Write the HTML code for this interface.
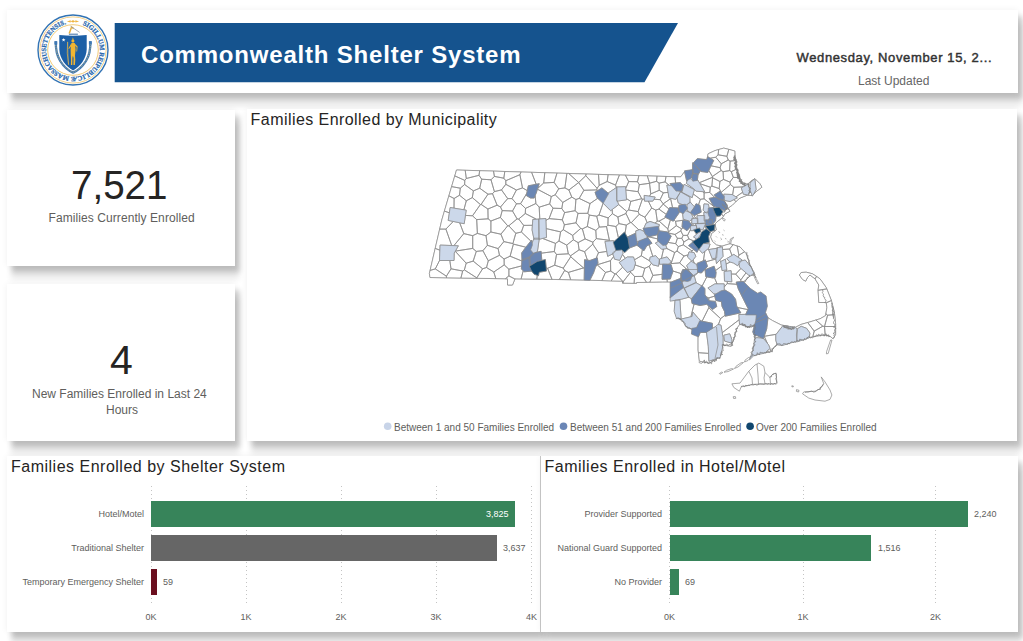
<!DOCTYPE html>
<html>
<head>
<meta charset="utf-8">
<title>Commonwealth Shelter System</title>
<style>
html,body{margin:0;padding:0;}
body{width:1023px;height:641px;overflow:hidden;background:#ffffff;position:relative;font-family:"Liberation Sans",sans-serif;}
.panel{position:absolute;background:#fff;box-shadow:5px 6px 5px 0 rgba(0,0,0,0.17), 4px 13px 6px 0 rgba(0,0,0,0.09), 0 0 7px 0 rgba(0,0,0,0.06);}
.abs{position:absolute;white-space:nowrap;}
.title{position:absolute;white-space:nowrap;letter-spacing:0.44px;font-size:16px;color:#252423;line-height:16px;transform-origin:0 0;}
.lbl{position:absolute;white-space:nowrap;font-size:9px;line-height:10px;color:#605e5c;transform-origin:100% 50%;text-align:right;}
.val{position:absolute;white-space:nowrap;font-size:9px;line-height:10px;color:#605e5c;transform-origin:0 50%;}
.ax{position:absolute;white-space:nowrap;font-size:9px;line-height:10px;color:#605e5c;width:30px;text-align:center;}
.grid{position:absolute;width:1px;background:repeating-linear-gradient(to bottom,#c4c4c4 0,#c4c4c4 1px,transparent 1px,transparent 4px);top:486px;height:120px;}
.bar{position:absolute;height:26px;}
</style>
</head>
<body>

<!-- header -->
<div class="panel" id="hdr" style="left:7px;top:9.8px;width:1010.5px;height:83.2px;"></div>
<!-- cards -->
<div class="panel" id="c1" style="left:7px;top:109.7px;width:228px;height:156px;"></div>
<div class="panel" id="c2" style="left:7px;top:284px;width:228px;height:157px;"></div>
<!-- map panel -->
<div class="panel" id="mp" style="left:247.3px;top:108.7px;width:770.2px;height:332.3px;"></div>
<!-- bar panels -->
<div class="panel" id="b1" style="left:7px;top:455.7px;width:534px;height:176px;"></div>
<div class="panel" id="b2" style="left:541px;top:455.7px;width:476.5px;height:176px;box-shadow:5px 6px 5px 0 rgba(0,0,0,0.17), 4px 13px 6px 0 rgba(0,0,0,0.09), 0 0 7px 0 rgba(0,0,0,0.06), -1px 0 0 0 #c9c9c9;"></div>

<!-- header content -->
<svg class="abs" style="left:0;top:0;" width="1023" height="100" viewBox="0 0 1023 100">
  <polygon points="114.7,23 678,23 644.5,82.3 114.7,82.3" fill="#15538e"/>
  <g id="seal">
    <circle cx="73" cy="50" r="35" fill="#ffffff" stroke="#3273b4" stroke-width="1.4"/>
    <circle cx="73" cy="50" r="33.1" fill="none" stroke="#f0c468" stroke-width="0.8"/>
    <circle cx="73" cy="50" r="25.3" fill="none" stroke="#f0c468" stroke-width="0.9"/>
    <path id="sealarc" d="M73,23.1 A26.9,26.9 0 1 1 72.99,23.1" fill="none"/>
    <text font-family="Liberation Serif, serif" font-weight="bold" font-size="6.7" fill="#2a68ad" stroke="#2a68ad" stroke-width="0.25"><textPath href="#sealarc" startOffset="9.6" textLength="152" lengthAdjust="spacingAndGlyphs">SIGILLUM REIPUBLICÆ MASSACHUSETTENSIS.</textPath></text>
    <!-- top ornament -->
    <path d="M66.9,21.4 L70.6,20.2 L70.6,22.6 Z M79.1,21.4 L75.4,20.2 L75.4,22.6 Z" fill="#eeb541"/>
    <path d="M70.4,21.4 H75.6" stroke="#eeb541" stroke-width="0.9"/>
    <circle cx="73" cy="21.4" r="1.15" fill="#eeb541"/>
    <!-- ribbon -->
    <path d="M55.8,41.2 C55.6,49 56.8,55.5 60.2,61 C63.5,66.2 68.5,70.8 73.1,72.6 C77.7,70.8 82.7,66.2 86,61 C89.4,55.5 90.6,49 90.4,41.2" fill="none" stroke="#3f78b4" stroke-width="2.3" stroke-linecap="butt"/>
    <path d="M55.8,43 C55.7,49.5 57,55.3 60.3,60.8 C63.6,66 68.5,70.5 73.1,72.4 C77.7,70.5 82.6,66 85.9,60.8 C89.2,55.3 90.5,49.5 90.4,43" fill="none" stroke="#e6c45e" stroke-width="0.9" stroke-dasharray="0.8 1.1" opacity="0.9"/>
    <path d="M54.4,41.3 h2.9 v3.2 h-2.9 z M88.9,41.3 h2.9 v3.2 h-2.9 z" fill="#3f78b4"/>
    <!-- shield -->
    <path d="M59.3,35.1 Q73,36.6 86.7,35.1 L86.7,49.5 C86.4,58.6 80.2,66.4 73.1,70.6 C66,66.4 59.6,58.6 59.3,49.5 Z" fill="#1c5fa6"/>
    <!-- crest: arm & sword -->
    <path d="M68.9,34.2 H77.9" stroke="#4b79ad" stroke-width="1.1"/>
    <path d="M69.2,33.6 L71.6,27 L73.6,28.6" fill="none" stroke="#e9b13d" stroke-width="1.5" stroke-linejoin="round"/>
    <path d="M70.6,26.2 L79.6,32.4" stroke="#8d97a6" stroke-width="0.8"/>
    <!-- star -->
    <path d="M63.6,37.9 L64.1,39.3 L65.5,39.3 L64.4,40.2 L64.8,41.6 L63.6,40.7 L62.4,41.6 L62.8,40.2 L61.7,39.3 L63.1,39.3 Z" fill="#ffffff"/>
    <!-- figure -->
    <g fill="#f2b632" stroke="none">
      <ellipse cx="72.9" cy="40.9" rx="1.5" ry="1.7"/>
      <path d="M72.3,39.4 L72.9,37.2 L73.6,39.4 Z"/>
      <path d="M71.2,43.2 Q73,42.4 75,43.2 L75.6,49.5 L75,55.5 L75.3,60 L74.9,65 L73.4,65 L73.6,58 L72.9,55.8 L72.4,58 L72.3,65 L70.9,65 L71,60 L70.8,55.5 L70.6,49.5 Z"/>
      <path d="M70.9,44 L68.4,48.6 L69,49 L71.3,46 Z"/>
      <path d="M75.2,44 L77.6,46.5 L77.1,51.6 L76.4,51.5 L76.6,47.2 L75,45.8 Z"/>
    </g>
    <path d="M67.6,41.8 Q66.4,53 68.6,64.8" fill="none" stroke="#f2b632" stroke-width="0.7"/>
    <path d="M67.7,42 L68.5,64.6" fill="none" stroke="#e8c870" stroke-width="0.35"/>
  </g>
</svg>
<div class="abs" id="ttl" style="left:141px;top:41px;font-size:24px;line-height:28px;font-weight:bold;color:#fff;letter-spacing:0.8px;">Commonwealth Shelter System</div>
<div class="abs" id="date" style="left:796.5px;top:50px;font-size:13px;line-height:16px;font-weight:normal;color:#333;-webkit-text-stroke:0.45px #333;letter-spacing:0.63px;">Wednesday, November 15, 2...</div>
<div class="abs" id="upd" style="left:858px;top:74px;font-size:12px;line-height:14px;color:#666;">Last Updated</div>

<!-- card content -->
<div class="abs" id="n1" style="left:71px;top:162.5px;font-size:41px;line-height:44px;color:#252423;transform:scaleX(0.94);transform-origin:0 0;">7,521</div>
<div class="abs" id="l1" style="letter-spacing:0.08px;left:48.5px;top:211px;font-size:12px;line-height:14px;color:#605e5c;">Families Currently Enrolled</div>
<div class="abs" id="n2" style="left:110px;top:338px;font-size:41px;line-height:44px;color:#252423;transform:scaleX(1.0);transform-origin:0 0;">4</div>
<div class="abs" id="l2a" style="left:32px;top:387px;font-size:12px;line-height:14px;color:#605e5c;">New Families Enrolled in Last 24</div>
<div class="abs" id="l2b" style="left:106px;top:403px;font-size:12px;line-height:14px;color:#605e5c;">Hours</div>

<!-- map -->
<div class="title" id="t0" style="left:250.6px;top:112.4px;">Families Enrolled by Municipality</div>
<svg class="abs" id="map" style="left:247px;top:109px;" width="770" height="332" viewBox="247 109 770 332">
<g fill="#ffffff" stroke="#8a8a8a" stroke-width="0.72" stroke-linejoin="round">
<path d="M456.5,170.0 441.8,220.0 429.4,273.5 430.0,277.5 507.5,278.8 507.5,285.0 512.5,285.0 515.0,278.8 585.0,280.0 622.5,281.2 622.5,283.1 636.5,283.4 636.5,282.5 662.5,281.9 670.6,281.9 670.6,300.6 675.0,300.6 674.4,311.2 676.9,318.1 681.2,319.4 687.5,327.5 692.5,328.8 691.9,333.8 698.1,335.6 698.1,350.0 699.4,361.2 709.4,363.1 720.0,356.9 722.5,345.0 731.2,346.2 733.8,338.8 737.0,328.0 740.0,323.8 748.0,326.5 755.0,325.0 753.1,331.9 755.0,335.6 755.0,338.8 753.8,348.8 750.6,358.1 753.8,355.0 765.0,352.5 770.0,352.5 776.2,345.0 777.5,344.4 782.5,345.0 792.5,341.9 797.5,341.2 808.8,337.5 815.0,336.2 825.0,335.0 830.0,336.2 833.1,338.8 835.6,334.4 835.6,323.8 834.4,312.5 831.2,300.0 826.2,287.5 820.0,278.8 812.5,273.8 806.2,272.2 801.2,272.5 799.4,275.0 802.5,279.4 805.6,281.2 807.5,277.5 810.0,275.0 815.0,278.8 818.8,285.0 818.1,290.0 818.8,302.5 826.2,302.5 826.9,307.5 825.6,315.6 820.0,318.8 810.0,321.9 801.2,324.4 795.0,327.5 781.2,325.0 772.5,320.6 767.5,317.5 765.0,312.5 766.9,306.2 765.6,296.2 760.6,292.5 757.5,293.8 750.0,288.8 747.5,286.2 743.1,281.9 747.0,279.0 750.0,275.6 755.0,275.0 750.0,265.0 746.2,253.8 740.0,246.9 730.0,243.8 727.0,244.6 722.0,246.2 716.5,245.0 712.5,241.5 710.5,237.0 711.5,233.5 716.2,230.0 715.0,223.8 718.0,221.0 722.5,217.5 725.0,213.8 730.0,211.2 728.1,208.1 732.5,205.0 736.2,201.2 740.0,198.1 747.5,195.0 752.5,195.6 755.0,192.5 761.9,187.2 760.0,183.8 755.0,178.8 751.0,181.0 747.5,184.4 742.5,182.5 738.8,176.2 736.2,167.5 735.0,158.8 734.8,151.0 723.8,148.1 715.0,150.6 708.1,153.8 706.9,159.8 697.5,159.0 692.8,163.8 693.0,170.0 685.0,171.2 680.6,176.9Z"/>
<path d="M564.9,187.9 566.9,173.4 557.0,173.1 554.1,182.4 558.7,188.8Z M488.0,194.2 479.7,188.2 473.4,190.9 472.3,197.6 480.4,204.5 481.1,204.4Z M493.5,171.1 479.7,170.7 479.0,175.3 481.7,179.2 491.0,179.8 494.4,176.4Z M493.8,272.0 495.8,278.6 505.4,278.7 508.9,275.9 508.9,269.2 504.2,264.9Z M460.3,188.2 451.6,186.6 448.9,195.8 454.1,198.5 459.5,195.2Z M547.6,268.3 552.0,279.4 559.3,279.5 564.6,270.5 563.3,268.1 554.7,265.2Z M482.9,250.7 488.3,260.8 499.5,255.3 498.1,248.6 487.4,245.3Z M507.7,198.6 501.5,189.9 494.4,191.6 492.5,193.7 497.1,205.2 500.5,207.0Z M670.6,198.7 663.2,203.8 663.2,204.1 669.0,209.0 669.7,207.6 672.6,207.7Z M642.6,276.4 634.6,276.5 634.1,283.3 636.5,283.4 636.5,282.5 646.5,282.3Z M596.3,238.6 595.8,230.4 587.3,226.5 582.4,228.9 585.1,238.9 592.9,242.2Z M519.9,174.7 505.8,180.7 505.8,184.3 516.4,190.0 522.5,187.9Z M476.7,219.6 472.5,215.8 465.4,215.4 464.2,223.7 459.7,222.8 463.8,233.6 472.7,235.7 477.4,233.4Z M578.7,182.5 585.8,175.7 586.1,174.0 568.7,173.5Z M564.6,212.6 575.1,210.7 575.9,199.5 571.8,197.1 562.8,202.4 561.8,208.5Z M649.5,183.3 649.6,183.2 647.3,175.9 638.9,175.6 637.5,181.7 639.3,184.7Z M562.8,202.4 571.8,197.1 568.9,190.0 564.9,187.9 558.7,188.8 555.2,194.8Z M516.5,203.8 520.6,203.7 526.7,193.5 527.3,190.6 522.5,187.9 516.4,190.0 512.0,198.6Z M516.4,190.0 505.8,184.3 501.5,189.9 507.7,198.6 512.0,198.6Z M738.9,255.2 737.2,246.0 733.1,244.7 729.6,249.0 732.0,255.5 733.8,254.4 738.1,257.3Z M719.2,188.6 721.2,192.4 730.4,184.5 729.9,182.1 723.5,179.4 719.9,181.5Z M570.7,256.8 563.3,268.1 564.6,270.5 568.4,272.4 583.5,267.9Z M539.2,207.2 535.9,203.5 525.5,208.4 525.3,213.5 536.5,219.3 539.1,219.1 539.1,219.1 539.8,219.0Z M573.4,239.8 566.7,245.1 568.3,253.8 570.6,255.8 579.1,249.8 578.1,242.6Z M615.5,185.1 607.2,181.5 599.2,185.3 597.1,188.3 596.8,189.9 597.2,190.9 601.9,187.9 608.1,193.1 616.4,187.6 616.4,187.5Z M568.3,253.8 556.5,254.5 554.7,265.2 563.3,268.1 570.7,256.8 570.6,255.8Z M473.2,261.1 466.2,263.2 464.4,269.9 476.8,277.9 482.6,268.8Z M674.7,252.5 671.1,263.6 679.6,262.9 684.0,256.0 677.0,251.1Z M472.7,235.7 472.7,248.4 476.3,251.4 482.9,250.7 487.4,245.3 486.0,235.7 477.4,233.4Z M584.6,251.7 587.4,260.1 589.9,260.5 596.1,258.3 598.5,252.7 592.8,244.2Z M486.0,235.7 487.4,245.3 498.1,248.6 503.9,241.6 500.9,234.2 490.9,232.0Z M631.3,222.7 638.9,229.9 640.0,229.5 644.1,231.5 644.5,232.2 643.1,228.3 644.0,228.2 645.9,223.4 647.2,222.7 644.9,217.2 639.2,214.3Z M507.7,225.8 508.8,225.8 517.1,218.9 512.5,211.0 502.2,210.6 500.4,217.4Z M728.8,149.4 723.8,148.1 718.7,149.5 718.1,154.8 726.9,156.3Z M472.5,215.8 480.4,204.5 472.3,197.6 466.3,200.8 463.9,209.8 466.2,210.2 465.4,215.4Z M536.2,184.3 539.2,183.7 537.8,188.2 537.8,188.3 543.7,183.0 544.8,172.7 531.6,172.3Z M612.4,213.7 608.1,217.9 607.9,225.2 615.9,226.5 618.9,223.6 617.9,217.0Z M479.0,175.3 466.3,178.5 464.8,180.4 464.6,184.5 473.4,190.9 479.7,188.2 481.7,179.2Z M564.6,212.6 561.8,208.5 553.0,208.2 549.1,218.6 562.3,219.8Z M637.5,181.7 628.7,181.6 625.6,188.8 625.7,190.0 638.1,191.7 639.3,184.7Z M499.5,255.3 504.1,259.0 510.1,256.2 513.4,244.1 512.9,243.6 503.9,241.6 498.1,248.6Z M596.7,216.2 589.3,215.1 587.3,226.5 595.8,230.4 599.3,227.1Z M549.7,203.9 551.3,196.5 537.4,189.2 537.4,189.2 536.1,193.3 535.1,195.6 535.9,203.5 539.2,207.2Z M554.3,251.5 555.5,243.4 542.5,238.4 539.2,239.3 537.4,251.6 535.5,252.6 541.1,251.3 541.2,253.2Z M549.1,218.6 545.9,220.4 546.2,228.6 560.6,231.9 563.3,229.7 564.4,224.8 562.3,219.8Z M747.8,309.6 748.2,308.8 738.3,288.9 736.9,284.3 727.2,283.6 724.2,287.0 724.2,290.2 724.2,290.2 725.1,290.1 731.6,294.0 735.5,299.2 736.7,306.1 737.6,307.5Z M718.4,324.6 721.0,325.2 722.2,332.7 739.2,319.7 738.9,314.5 745.7,314.4 747.8,309.6 737.6,307.5 740.8,312.8 725.2,316.2 725.0,315.3 720.6,318.6Z M486.0,235.7 490.9,232.0 490.9,221.0 488.1,218.8 476.7,219.6 477.4,233.4Z M630.3,222.6 626.3,225.1 625.1,233.2 627.2,237.1 635.4,233.3 635.8,235.3 635.8,230.9 638.9,229.9 631.3,222.7Z M492.5,193.7 488.0,194.2 481.1,204.4 487.9,209.0 497.1,205.2Z M508.9,269.2 508.9,275.9 514.9,279.0 515.0,278.8 521.1,278.9 523.2,270.8 521.4,268.9 521.6,265.9Z M721.3,163.8 728.2,160.0 726.9,156.3 718.1,154.8 715.7,157.2Z M733.1,244.7 730.0,243.8 727.0,244.6 722.0,246.2 720.3,245.8 720.1,247.2 722.4,246.9 722.5,249.5 729.6,249.0Z M503.8,178.2 494.4,176.4 491.0,179.8 494.4,191.6 501.5,189.9 505.8,184.3 505.8,180.7Z M638.1,191.7 625.7,190.0 626.4,198.6 630.8,201.4 641.7,198.7Z M607.2,181.5 615.5,185.1 619.4,175.0 608.1,174.7Z M582.4,228.9 587.3,226.5 589.3,215.1 587.8,213.3 578.0,213.4 576.0,222.8 580.7,228.5Z M615.9,273.8 622.7,267.2 622.7,267.2 619.3,262.4 625.3,258.4 622.5,254.3 619.7,260.3 614.6,259.2 613.7,256.4 610.5,260.7 610.7,271.1 615.0,273.9Z M597.7,198.3 597.1,197.8 595.0,192.3 597.2,190.9 596.8,189.9 583.9,190.3 579.2,198.4 590.0,203.6Z M708.6,353.4 708.3,346.3 706.5,332.4 706.4,332.4 700.3,332.4 698.4,336.9 698.1,336.8 698.1,350.0 698.4,352.7Z M560.6,231.9 559.0,241.0 566.7,245.1 573.4,239.8 572.7,235.4 563.3,229.7Z M513.4,244.1 525.8,247.2 525.9,247.2 530.8,241.0 521.4,232.0 515.8,233.3 512.9,243.6Z M459.7,222.8 453.3,221.4 445.9,229.1 451.7,245.5 453.9,245.6 463.8,233.6Z M730.1,161.1 735.3,160.6 735.0,158.8 734.8,151.0 728.8,149.4 726.9,156.3 728.2,160.0Z M451.0,268.8 449.8,260.5 439.5,260.5 435.3,268.9 446.4,276.2Z M455.4,251.1 455.3,251.3 466.2,263.2 473.2,261.1 476.3,251.4 472.7,248.4Z M722.2,332.7 723.0,337.5 723.0,345.1 723.0,345.1 731.2,346.2 733.8,338.8 737.0,328.0 739.7,324.2 739.5,324.1 739.2,319.7ZM729.7,333.8 731.8,339.3 731.8,343.2 724.5,341.0 723.9,335.2Z M733.8,187.3 730.4,184.5 721.2,192.4 721.1,192.6 724.1,196.5 723.8,194.2 732.1,194.5 732.6,194.8Z M508.8,225.8 515.8,233.3 521.4,232.0 523.7,225.4 518.7,219.0 517.1,218.9Z M587.8,213.3 589.3,215.1 596.7,216.2 599.0,215.0 603.1,203.2 602.8,202.9 597.7,198.3 590.0,203.6Z M583.9,190.3 578.7,182.5 568.9,190.0 571.8,197.1 575.9,199.5 579.2,198.4Z M570.6,255.8 570.7,256.8 583.5,267.9 584.4,268.2 584.5,259.7 587.4,260.1 584.6,251.7 579.1,249.8Z M605.5,272.4 597.2,264.8 597.0,264.7 595.5,267.1 593.6,272.7 589.9,280.2 601.9,280.6Z M463.8,233.6 453.9,245.6 458.3,245.8 455.4,251.1 472.7,248.4 472.7,235.7Z M748.2,183.7 747.5,184.4 742.5,182.5 739.5,177.6 733.3,177.4 729.9,182.1 730.4,184.5 733.8,187.3 743.0,186.9 747.8,184.3 748.0,185.0Z M690.5,223.4 691.9,225.0 691.3,225.7 692.4,225.6 693.4,223.7 691.9,223.7 691.9,222.6Z M681.5,228.8 680.8,230.9 683.1,235.4 687.5,235.4 690.5,229.4 690.3,226.8 687.0,230.7 683.0,227.9Z M677.4,238.3 675.7,243.7 678.3,246.6 683.3,244.9 683.8,242.0 681.8,238.4Z M684.0,256.0 688.2,254.9 689.0,251.9 691.5,252.3 692.0,250.9 683.3,244.9 678.3,246.6 677.0,251.1Z M527.3,190.6 528.3,185.8 536.2,184.3 531.6,172.3 521.0,172.0 519.9,174.7 522.5,187.9Z M748.0,185.0 749.9,190.0 749.7,190.7 751.3,193.1 750.1,190.1 750.1,182.9 754.4,179.1 751.0,181.0 748.2,183.7Z M761.9,187.2 760.0,183.8 755.0,178.8 754.8,178.9 756.1,189.5 753.3,194.7 755.0,192.5Z M698.4,352.7 699.4,361.2 709.4,363.1 717.8,358.2 708.9,361.2 708.6,353.4Z M659.1,221.1 665.7,217.5 664.9,217.1 666.3,214.4 658.9,209.1 655.7,210.1 657.3,221.2Z M462.7,271.0 451.0,268.8 446.4,276.2 446.5,277.8 460.9,278.0Z M733.8,187.3 732.6,194.8 735.9,196.9 742.7,192.2 741.3,187.9 743.0,186.9Z M445.9,229.1 439.7,229.1 435.2,248.4 439.9,250.2 440.1,245.1 451.7,245.5Z M708.8,307.7 702.1,321.2 712.4,323.3 712.4,328.4 712.2,328.5 715.9,326.5 717.9,324.4 718.4,324.6 720.6,318.6Z M564.4,224.8 576.0,222.8 578.0,213.4 575.1,210.7 564.6,212.6 562.3,219.8Z M476.8,277.9 476.8,278.3 495.8,278.6 493.8,272.0 486.5,267.5 482.6,268.8Z M598.5,252.7 606.8,251.4 605.0,241.4 610.3,241.0 609.4,240.3 596.3,238.6 592.9,242.2 592.8,244.2Z M626.6,211.3 618.7,204.6 612.2,209.4 612.4,213.7 617.9,217.0 626.0,213.5Z M625.3,258.4 627.3,257.0 633.5,257.0 634.4,259.9 641.3,255.8 642.4,249.6 636.9,245.2 636.9,245.2 629.4,248.0 624.8,252.6 622.5,250.6 623.0,253.2 622.5,254.3Z M641.7,198.7 630.8,201.4 628.6,210.0 638.1,211.6 642.4,199.1Z M653.9,199.2 652.8,201.1 648.3,201.1 651.7,208.0 655.7,210.1 658.9,209.1 663.2,204.1 663.2,203.8 660.1,199.7Z M723.1,171.7 729.6,170.6 730.1,161.1 728.2,160.0 721.3,163.8 720.1,167.7 721.1,170.5Z M683.8,242.0 688.9,238.9 687.5,235.4 683.1,235.4 681.8,238.4Z M630.6,272.2 630.4,271.1 627.4,272.5 622.7,267.2 615.9,273.8 623.1,281.8Z M666.0,176.5 657.0,176.2 656.5,181.3 659.1,183.1 665.1,181.9Z M710.3,187.2 709.8,192.4 714.5,197.3 715.0,197.2 717.3,198.0 714.2,194.9 720.1,191.2 721.1,192.6 721.2,192.4 719.2,188.6 711.9,186.1Z M446.4,276.2 435.3,268.9 430.1,270.4 429.4,273.5 430.0,277.5 446.5,277.8Z M720.1,167.7 711.1,165.8 710.4,167.1 708.8,170.4 712.4,176.5 721.1,170.5Z M599.2,185.3 598.5,174.4 586.1,174.0 585.8,175.7 597.1,188.3Z M525.3,213.5 518.7,219.0 523.7,225.4 532.4,225.3 532.8,219.5 536.5,219.3Z M735.7,274.1 740.8,279.9 746.0,272.8 741.0,268.4Z M676.3,225.7 668.5,231.8 668.4,232.8 668.6,233.0 675.0,234.5 680.8,230.9 681.5,228.8Z M583.5,267.9 568.4,272.4 570.7,279.7 584.2,280.0 584.4,268.2Z M659.1,221.1 667.8,228.9 670.4,219.8 665.7,217.5Z M615.9,226.5 607.9,225.2 606.5,226.6 609.4,240.3 610.3,241.0 613.5,240.7 613.8,241.8 618.4,237.7Z M731.3,171.7 736.7,169.0 736.2,167.5 735.3,160.6 730.1,161.1 729.6,170.6Z M598.5,252.7 596.1,258.3 597.3,257.8 598.0,263.2 597.0,264.7 597.2,264.8 610.5,260.7 613.7,256.4 612.8,253.8 607.7,256.3 606.8,251.4Z M678.3,246.6 675.7,243.7 668.0,242.4 666.6,244.8 665.6,245.0 667.0,248.5 666.8,248.5 674.7,252.5 677.0,251.1Z M555.5,243.4 554.3,251.5 556.5,254.5 568.3,253.8 566.7,245.1 559.0,241.0Z M502.2,210.6 500.5,207.0 497.1,205.2 487.9,209.0 488.1,218.8 490.9,221.0 500.4,217.4Z M712.4,177.4 699.3,182.7 699.9,183.7 710.3,187.2 711.9,186.1 712.6,177.8Z M733.3,177.4 739.5,177.6 738.8,176.2 736.7,169.0 731.3,171.7Z M628.7,181.6 625.4,175.2 619.4,175.0 615.5,185.1 616.4,187.5 616.4,187.0 625.5,186.7 625.6,188.8Z M500.9,234.2 507.7,225.8 500.4,217.4 490.9,221.0 490.9,232.0Z M652.9,275.4 649.2,266.3 644.8,268.3 642.6,276.4 646.5,282.3 649.8,282.2Z M650.8,193.9 659.2,190.3 659.1,183.1 656.5,181.3 649.6,183.2 649.5,183.3Z M503.8,178.2 505.8,180.7 519.9,174.7 521.0,172.0 504.8,171.5Z M651.5,263.2 649.5,260.8 641.3,255.8 634.4,259.9 635.5,263.1 635.0,264.9 644.8,268.3 649.2,266.3Z M726.0,264.1 726.8,269.8 726.0,269.9 726.7,271.2 731.1,270.7 731.3,274.0 735.7,274.1 741.0,268.4 739.5,267.2 739.1,263.7 737.6,265.7 733.5,263.0 730.1,262.0Z M561.8,208.5 562.8,202.4 555.2,194.8 551.3,196.5 549.7,203.9 553.0,208.2Z M563.3,229.7 572.7,235.4 580.7,228.5 576.0,222.8 564.4,224.8Z M493.8,272.0 504.2,264.9 504.1,259.0 499.5,255.3 488.3,260.8 486.5,267.5Z M503.9,241.6 512.9,243.6 515.8,233.3 508.8,225.8 507.7,225.8 500.9,234.2Z M663.2,203.8 670.6,198.7 670.8,198.3 669.0,197.9 668.1,192.4 663.4,192.8 660.1,199.7Z M521.1,278.9 536.8,279.1 537.3,275.3 534.1,274.2 531.7,271.1 524.2,271.8 523.2,270.8Z M508.9,275.9 505.4,278.7 507.5,278.8 507.5,285.0 512.5,285.0 514.9,279.0Z M709.2,249.5 717.0,248.2 717.1,247.7 720.1,247.2 720.3,245.8 716.5,245.0 712.5,241.5 710.5,237.0 711.5,233.5 715.4,230.6 714.2,230.4 714.2,230.4 710.5,231.6 710.6,231.7 708.6,236.3 709.3,242.3 704.3,243.4 710.1,244.0 708.5,248.4 707.8,249.0Z M638.1,211.6 639.2,214.3 644.9,217.2 651.7,208.0 648.3,201.1 644.5,201.1 644.4,199.2 642.4,199.1Z M512.5,211.0 516.5,203.8 512.0,198.6 507.7,198.6 500.5,207.0 502.2,210.6Z M479.7,170.7 465.2,170.3 466.3,178.5 479.0,175.3Z M694.1,304.0 692.1,303.5 691.4,299.3 695.5,293.8 691.4,298.7 688.8,297.2 681.4,299.2 676.4,300.1 679.9,300.1 681.1,318.6 678.6,318.6 681.2,319.4 681.7,319.9 681.1,319.1 690.9,316.8Z M465.2,170.3 456.5,170.0 454.8,175.9 464.8,180.4 466.3,178.5Z M473.4,190.9 464.6,184.5 460.3,188.2 459.5,195.2 466.3,200.8 472.3,197.6Z M546.2,228.6 546.5,237.4 542.5,238.4 555.5,243.4 559.0,241.0 560.6,231.9Z M553.0,208.2 549.7,203.9 539.2,207.2 539.8,219.0 545.8,218.5 545.9,220.4 549.1,218.6Z M517.1,218.9 518.7,219.0 525.3,213.5 525.5,208.4 520.6,203.7 516.5,203.8 512.5,211.0Z M704.1,198.8 704.1,192.8 702.8,191.7 696.0,191.1 693.4,188.5 691.0,186.7 690.3,187.6 694.3,189.7 693.2,193.9 700.4,199.3Z M599.0,215.0 596.7,216.2 599.3,227.1 606.5,226.6 607.9,225.2 608.1,217.9Z M723.5,179.4 729.9,182.1 733.3,177.4 731.3,171.7 729.6,170.6 723.1,171.7Z M675.0,176.7 666.0,176.5 665.1,181.9 669.3,185.4 671.7,185.7 670.0,183.6 675.6,183.0Z M612.2,209.4 610.6,210.7 603.1,203.2 599.0,215.0 608.1,217.9 612.4,213.7Z M617.9,217.0 618.9,223.6 626.3,225.1 630.3,222.6 626.0,213.5Z M481.7,179.2 479.7,188.2 488.0,194.2 492.5,193.7 494.4,191.6 491.0,179.8Z M579.2,198.4 575.9,199.5 575.1,210.7 578.0,213.4 587.8,213.3 590.0,203.6Z M657.3,221.2 655.7,210.1 651.7,208.0 644.9,217.2 647.2,222.7 650.0,221.4 655.0,223.1Z M451.0,268.8 462.7,271.0 464.4,269.9 466.2,263.2 455.3,251.3 454.2,253.2 454.0,260.5 449.8,260.5Z M681.1,273.6 682.8,269.5 684.9,269.5 685.5,268.7 686.5,269.5 686.9,269.5 687.1,269.5 679.6,262.9 671.1,263.6 669.8,264.5 671.0,264.5 672.9,271.0Z M488.1,218.8 487.9,209.0 481.1,204.4 480.4,204.5 472.5,215.8 476.7,219.6Z M444.4,211.1 441.8,220.0 439.7,229.1 445.9,229.1 453.3,221.4 448.2,220.4 449.4,212.8Z M719.9,181.5 723.5,179.4 723.1,171.7 721.1,170.5 712.4,176.5 712.4,177.4 712.6,177.8Z M668.1,192.4 666.9,185.0 669.3,185.4 665.1,181.9 659.1,183.1 659.2,190.3 663.4,192.8Z M734.0,199.5 730.1,201.5 724.5,200.4 724.4,198.8 723.9,198.8 723.5,200.3 726.1,203.5 727.5,208.3 727.2,208.5 728.9,209.5 728.1,208.1 732.5,205.0 735.8,201.7Z M715.9,259.0 715.8,258.1 712.2,258.7 708.7,249.6 709.2,249.5 707.8,249.0 704.8,251.4 703.4,260.7 705.3,259.9 705.9,261.8Z M694.4,216.3 692.6,214.3 690.8,213.0 690.7,213.0 687.3,210.3 687.2,208.6 685.6,210.7 691.0,213.1 693.4,218.3 693.2,218.4 695.8,218.3Z M675.5,221.3 682.6,220.3 682.7,220.0 683.5,220.1 685.5,219.9 683.3,219.1 682.6,213.6 682.7,213.4 679.1,211.4 679.3,212.6 674.1,220.0Z M721.5,214.0 720.3,215.9 716.6,216.2 716.1,215.2 715.5,220.8 712.4,224.6 712.4,224.8 715.0,224.4 714.2,230.4 715.4,230.6 716.2,230.0 715.0,223.8 718.0,221.0 722.5,217.5 723.4,216.2Z M706.0,228.5 707.6,228.9 705.3,225.9 707.2,225.6 705.7,225.8 705.6,223.5 704.5,225.9Z M714.8,296.1 714.4,294.8 715.7,294.0 713.5,293.6 707.9,288.0 714.9,283.9 717.1,283.9 714.4,277.6 713.1,278.0 706.8,276.9 702.2,285.9 704.9,288.5 704.9,294.8 706.3,296.9 708.8,297.9Z M671.1,263.6 674.7,252.5 666.8,248.5 663.6,249.0 661.4,258.5 667.1,256.9 671.3,262.0 668.2,264.2 665.9,264.2 669.8,264.5Z M473.2,261.1 482.6,268.8 486.5,267.5 488.3,260.8 482.9,250.7 476.3,251.4Z M596.8,189.9 597.1,188.3 585.8,175.7 578.7,182.5 578.7,182.5 583.9,190.3Z M708.8,307.7 708.8,306.1 706.7,304.3 700.0,305.5 694.1,304.0 690.9,316.8 692.1,316.5 692.8,312.0 697.3,317.2 700.6,320.5 700.4,320.8 702.1,321.2Z M708.8,297.9 706.3,296.9 708.8,300.5Z M685.1,193.8 681.9,192.2 682.0,191.7 679.3,191.1 679.2,191.1 680.8,191.6 680.6,191.9 685.2,194.5Z M670.6,198.7 672.6,207.7 678.5,208.0 678.6,208.2 679.0,205.2 682.7,204.6 678.3,202.9 677.0,198.0 678.9,194.5 675.8,199.3 670.8,198.3Z M435.2,248.4 430.1,270.4 435.3,268.9 439.5,260.5 439.5,260.5 439.9,250.2Z M683.1,235.4 680.8,230.9 675.0,234.5 677.4,238.3 681.8,238.4Z M555.2,194.8 558.7,188.8 554.1,182.4 543.7,183.0 537.8,188.3 537.4,189.2 551.3,196.5Z M691.0,186.7 686.3,183.3 687.4,180.3 686.6,180.8 684.6,171.8 680.6,176.9 675.0,176.7 675.6,183.0 680.2,182.6 683.1,185.4 681.6,191.1 679.3,191.1 682.0,191.7 684.1,184.3 690.3,187.6Z M711.9,186.1 719.2,188.6 719.9,181.5 712.6,177.8Z M609.4,240.3 606.5,226.6 599.3,227.1 595.8,230.4 596.3,238.6Z M712.4,177.4 712.4,176.5 708.8,170.4 707.8,172.4 701.0,171.5 700.4,170.9 698.3,174.3 698.0,174.2 697.4,180.1 697.8,180.1 699.3,182.7Z M715.5,270.6 716.1,272.5 715.5,277.3 714.4,277.6 717.1,283.9 724.2,283.9 724.2,287.0 727.2,283.6 727.4,281.4 724.5,281.1 724.2,271.5 726.7,271.2 726.0,269.9 722.1,270.6 721.4,266.2Z M644.4,199.2 644.2,195.4 649.5,196.2 650.8,193.9 649.5,183.3 639.3,184.7 638.1,191.7 641.7,198.7 642.4,199.1Z M709.8,192.4 704.1,192.8 704.1,198.8 714.3,206.8 714.8,206.6 713.4,206.0 709.2,198.4 714.5,197.3Z M692.4,225.6 696.1,225.5 695.5,223.7 703.1,223.5 702.9,223.2 697.5,223.5 697.5,223.5 693.4,223.7Z M687.5,235.4 688.9,238.9 693.7,240.9 696.5,239.1 693.6,236.9 698.4,232.7 696.1,233.7 694.2,230.6 690.5,230.7 690.5,229.4Z M706.0,228.5 704.5,225.9 702.8,230.0 700.2,229.4 700.9,231.5 700.5,231.7 701.4,232.5 701.5,232.2 705.8,229.1Z M592.9,242.2 585.1,238.9 578.1,242.6 579.1,249.8 584.6,251.7 592.8,244.2Z M649.1,244.7 646.6,246.0 643.9,250.8 642.4,249.6 641.3,255.8 649.5,260.8 649.5,260.7 650.2,257.1 652.8,256.4Z M675.5,221.3 676.3,225.7 681.5,228.8 683.0,227.9 682.0,227.1 682.6,220.3Z M691.9,222.6 691.7,219.5 689.5,221.2 688.4,220.8 690.5,223.4Z M715.7,157.2 718.1,154.8 718.7,149.5 715.0,150.6 708.1,153.8 707.2,158.2 707.9,156.8 710.2,158.2Z M667.0,279.1 662.0,279.3 662.2,274.3 652.9,275.4 649.8,282.2 662.5,281.9 667.3,281.9Z M615.0,273.9 610.7,271.1 605.5,272.4 601.9,280.6 611.3,280.9Z M557.0,173.1 544.8,172.7 543.7,183.0 554.1,182.4Z M607.2,181.5 608.1,174.7 598.5,174.4 599.2,185.3Z M750.8,266.6 750.0,265.0 746.2,253.8 744.5,251.8 738.9,255.2 738.1,257.3 742.0,259.9 741.1,261.0 745.2,260.0 750.4,266.2 750.7,266.7Z M510.1,256.2 521.9,261.0 522.0,260.0 521.7,252.9 525.8,247.2 513.4,244.1Z M706.8,276.9 705.8,276.7 705.1,270.2 704.4,269.7 701.4,273.0 698.2,272.4 697.5,272.8 697.3,273.4 694.2,275.9 696.2,282.8 696.1,282.8 701.6,285.9 701.8,285.5 702.2,285.9Z M720.7,261.7 720.7,261.6 725.4,259.2 726.0,264.1 730.1,262.0 729.7,261.9 726.7,258.6 732.0,255.5 729.6,249.0 722.5,249.5 723.0,256.4 719.7,260.1Z M662.2,274.3 662.6,264.2 659.5,264.2 659.5,261.3 659.1,261.3 658.5,266.2 652.8,264.8 651.5,263.2 649.2,266.3 652.9,275.4Z M659.5,261.3 659.5,259.0 661.4,258.5 663.6,249.0 661.7,249.3 655.4,243.0 658.3,241.5 657.6,240.8 657.6,238.9 646.9,236.4 646.9,236.4 647.5,237.6 647.7,237.5 652.0,243.3 649.1,244.7 652.8,256.4 655.8,255.7 659.3,259.8 659.1,261.3Z M638.9,175.6 625.4,175.2 628.7,181.6 637.5,181.7Z M738.9,255.2 744.5,251.8 740.0,246.9 737.2,246.0Z M649.6,183.2 656.5,181.3 657.0,176.2 647.3,175.9Z M704.8,251.4 702.4,253.2 699.1,249.5 700.1,247.8 698.8,249.6 698.5,249.2 697.1,252.3 693.6,249.6 692.0,250.9 691.5,252.3 694.1,252.6 695.8,256.3 693.0,260.0 694.3,263.2 696.7,264.7 697.2,266.7 697.0,263.4 703.4,260.7Z M740.8,281.6 743.3,281.4 743.5,281.6 747.0,279.0 749.7,276.0 746.0,272.8 740.8,279.9Z M754.0,273.0 750.9,275.5 755.0,275.0Z M705.1,270.2 705.1,269.7 714.1,266.2 715.5,270.6 721.4,266.2 720.7,261.7 719.7,260.1 716.5,263.6 715.9,259.0 705.9,261.8 707.5,266.4 704.4,269.7Z M824.5,326.5 824.5,326.5 827.6,315.2 825.9,313.8 825.6,315.6 820.0,318.8 815.9,320.0 822.8,326.2Z M547.6,268.3 546.2,267.9 546.5,271.0 539.2,272.3 538.5,275.7 537.3,275.3 536.8,279.1 552.0,279.4Z M684.0,256.0 679.6,262.9 687.1,269.5 687.7,269.5 688.4,269.5 686.7,265.5 691.2,261.3 694.3,263.2 693.0,260.0 692.0,261.3 687.5,257.0 688.2,254.9Z M731.3,274.0 731.8,281.8 727.4,281.4 727.2,283.6 736.9,284.3 736.2,282.1 740.8,281.6 740.8,279.9 735.7,274.1Z M642.6,276.4 644.8,268.3 635.0,264.9 633.5,269.8 630.4,271.1 630.6,272.2 634.6,276.5Z M710.3,187.2 699.9,183.7 704.7,191.8 702.8,191.7 704.1,192.8 709.8,192.4Z M683.3,244.9 692.0,250.9 693.6,249.6 688.6,245.6 692.7,242.2 692.4,241.8 693.7,240.9 688.9,238.9 683.8,242.0Z M476.8,277.9 464.4,269.9 462.7,271.0 460.9,278.0 476.8,278.3Z M504.1,259.0 504.2,264.9 508.9,269.2 521.6,265.9 521.9,261.0 510.1,256.2Z M454.8,175.9 451.6,186.6 460.3,188.2 464.6,184.5 464.8,180.4Z M674.1,220.0 673.3,221.2 670.4,219.8 667.8,228.9 668.5,231.8 676.3,225.7 675.5,221.3Z M556.5,254.5 554.3,251.5 541.2,253.2 541.8,260.3 541.2,260.6 545.4,259.6 546.2,267.9 547.6,268.3 554.7,265.2Z M720.1,167.7 721.3,163.8 715.7,157.2 710.2,158.2 713.7,160.4 711.1,165.8Z M564.9,187.9 568.9,190.0 578.7,182.5 578.7,182.5 568.7,173.5 566.9,173.4Z M615.9,226.5 618.4,237.7 624.5,232.1 625.1,233.2 626.3,225.1 618.9,223.6Z M667.8,228.9 659.1,221.1 657.3,221.2 655.0,223.1 659.4,224.7 658.6,227.0 659.1,230.8 667.8,232.0 668.4,232.8 668.5,231.8Z M646.9,236.4 657.6,238.9 657.6,235.0 657.7,234.1 657.2,234.8 648.6,236.8 647.1,235.6Z M626.4,198.6 626.5,199.8 617.3,201.1 618.7,204.6 618.7,204.6 626.6,211.3 628.6,210.0 630.8,201.4Z M725.0,315.3 724.5,311.4 722.0,306.4 721.4,301.7 715.8,300.4 714.8,296.1 708.8,297.9 708.8,300.5 709.0,300.8 715.4,301.4 716.8,306.5 712.5,309.4 708.8,306.1 708.8,307.7 720.6,318.6Z M523.7,225.4 521.4,232.0 530.8,241.0 531.6,240.1 531.9,242.1 532.3,242.5 533.9,238.7 532.1,230.0 532.4,225.3Z M749.7,190.7 748.5,195.0 743.4,194.2 742.7,192.2 735.9,196.9 737.3,197.8 734.0,199.5 735.8,201.7 736.2,201.2 740.0,198.1 747.5,195.0 752.2,195.6 751.3,193.1Z M700.4,199.3 693.2,193.9 692.2,197.6 685.1,193.8 685.2,194.5 689.9,197.2 689.9,201.9 690.0,201.8 694.4,206.8 693.2,208.9 694.0,207.8 696.0,203.8 698.5,204.7Z M668.6,233.0 671.2,236.2 668.5,241.5 668.0,242.4 675.7,243.7 677.4,238.3 675.0,234.5Z M626.6,211.3 626.0,213.5 630.3,222.6 631.3,222.7 639.2,214.3 638.1,211.6 628.6,210.0Z M494.4,176.4 503.8,178.2 504.8,171.5 493.5,171.1Z M634.6,276.5 630.6,272.2 623.1,281.8 623.1,283.1 634.1,283.3Z M582.4,228.9 580.7,228.5 572.7,235.4 573.4,239.8 578.1,242.6 585.1,238.9Z M448.9,195.8 444.4,211.1 449.4,212.8 450.2,207.5 454.0,208.2 454.1,198.5Z M623.1,281.8 615.9,273.8 615.0,273.9 611.3,280.9 622.5,281.2 622.5,283.1 623.1,283.1Z M663.4,192.8 659.2,190.3 650.8,193.9 649.5,196.2 655.2,197.1 653.9,199.2 660.1,199.7Z M466.3,200.8 459.5,195.2 454.1,198.5 454.0,208.2 463.9,209.8Z M568.4,272.4 564.6,270.5 559.3,279.5 570.7,279.7Z M525.5,208.4 535.9,203.5 535.1,195.6 534.1,198.0 530.5,198.0 526.3,195.5 526.7,193.5 520.6,203.7Z M714.3,206.8 704.1,198.8 700.4,199.3 698.5,204.7 699.8,205.2 701.2,212.2 694.7,215.4 694.4,216.3 695.8,218.3 697.2,218.3 697.0,215.7 704.0,215.5 703.9,212.3 705.3,212.3 703.2,210.2 704.0,203.9 708.5,204.3 709.0,208.0 713.4,207.6 713.5,207.7Z M727.2,208.5 724.5,210.6 720.7,209.0 722.9,211.6 721.5,214.0 723.4,216.2 725.0,213.8 730.0,211.2 728.9,209.5Z M685.5,290.6 684.4,288.0 684.1,288.2 682.6,284.2 683.2,287.4 683.3,287.4 685.2,290.8Z M672.9,271.0 673.0,271.3 671.1,276.4 670.4,279.0 667.0,279.1 667.3,281.9 670.6,281.9 670.6,282.0 671.2,282.0 680.6,278.4 681.0,277.0 680.7,274.3 681.1,273.6Z M610.7,271.1 610.5,260.7 597.2,264.8 605.5,272.4Z M663.2,204.1 658.9,209.1 666.3,214.4 669.0,209.0Z M816.5,276.4 812.5,273.8 806.2,272.2 801.2,272.5 799.4,275.0 802.5,279.4 805.6,281.2 807.5,277.5 810.0,275.0 815.0,278.8 815.1,278.9Z M815.1,278.9 818.8,285.0 818.1,290.0 818.1,290.3 826.8,288.9 826.2,287.5 820.0,278.8 816.5,276.4Z M831.4,300.5 831.2,300.0 826.8,288.9 818.1,290.3 818.8,302.5 826.2,302.5 826.3,302.8Z M826.3,302.8 826.9,307.5 825.9,313.8 827.6,315.2 834.6,314.7 834.4,312.5 831.4,300.5Z M827.6,315.2 824.5,326.5 835.6,326.5 835.6,323.8 834.6,314.7Z M825.2,335.1 830.0,336.2 833.1,338.8 835.6,334.4 835.6,326.5 824.5,326.5 824.5,326.5Z M815.9,320.0 810.0,321.9 807.7,322.5 814.2,331.1 822.8,326.2Z M814.2,331.1 812.8,336.7 815.0,336.2 825.0,335.0 825.2,335.1 824.5,326.5 822.8,326.2Z M807.7,322.5 801.2,324.4 795.5,327.3 797.0,329.3 797.0,329.1 801.2,326.3 806.6,328.3 809.9,333.0 809.3,337.4 812.8,336.7 814.2,331.1Z M764.2,336.3 764.2,336.3 767.4,343.4 768.5,344.7 770.0,348.2 769.8,348.5 771.0,351.3 776.2,345.0 777.0,344.6 775.8,340.1 775.8,334.8 776.2,334.3Z M776.2,334.3 782.9,325.7 788.5,326.3 781.2,325.0 772.5,320.6 768.0,317.8 766.7,328.9 764.2,336.3Z M769.8,348.5 765.7,352.5 770.0,352.5 771.0,351.3Z M764.2,336.3 763.5,338.5 767.4,343.4Z M756.2,337.6 762.1,338.2 756.9,335.5 755.0,336.1 755.0,338.2Z"/>
<path d="M731.9,383.8 740.0,383.1 748.8,371.2 755.0,365.0 758.8,363.1 763.8,366.2 765.0,372.5 770.0,377.5 773.1,373.8 776.2,373.1 776.9,383.8 765.0,383.8 752.5,384.4 741.2,386.9 739.4,391.2 733.8,387.5Z"/>
<path d="M821.2,376.9 825.0,381.9 830.0,390.0 831.9,395.0 830.0,399.4 825.0,401.2 815.0,400.0 808.8,398.1 802.5,393.8 803.8,391.9 815.0,391.2 820.0,388.8 823.8,383.8Z"/>
<path d="M796.5,389.6 799.0,390.3 798.6,392.0 796.4,391.4Z"/>
<path d="M791.8,385.8 793.4,386.0 793.2,386.9 791.9,386.8Z"/>
<path d="M733.2,396.7 735.4,396.6 735.8,398.3 733.6,398.5Z"/>
<path d="M830.6,340.0 832.0,340.0 828.2,353.5 826.4,353.9 826.6,351.5Z"/>
<path d="M751.2,356.9 748.0,360.5 744.5,362.0 745.0,360.2 748.5,357.5Z"/>
<path d="M743.5,362.5 738.0,367.0 734.5,368.5 736.0,366.3 741.0,362.8Z"/>
<path d="M733.5,369.0 728.0,371.6 724.0,372.2 726.5,370.3 731.5,368.6Z"/>
<path d="M722.8,372.6 720.0,374.3 719.3,373.5 721.8,372.0Z"/>
<path d="M722.5,217.8 725.3,219.5 724.3,221.2 722.9,219.6Z"/>
<path d="M729.6,243.6 730.4,239.0 733.6,237.2 733.0,238.6 731.4,239.8 730.8,243.4Z"/>
<path d="M753.5,272.5 756.2,278.5 758.8,283.5 757.6,283.8 755.2,279.0 752.8,273.2Z"/>
</g>
<path d="M450.2,207.5 448.2,220.4 464.2,223.7 466.2,210.2Z M440.1,245.1 439.5,260.5 454.0,260.5 454.2,253.2 458.3,245.8Z M532.8,219.5 532.1,230.0 534.0,239.2 539.3,239.2 539.1,219.1Z M538.5,219.1 538.7,239.4 546.5,237.4 545.8,218.5Z M534.1,238.2 531.4,244.8 529.4,250.1 533.0,254.1 537.4,251.6 539.3,238.2Z M607.7,193.4 602.5,202.6 610.6,210.7 618.7,204.6 616.8,199.9 617.0,187.1Z M616.4,187.0 616.8,201.2 626.5,199.8 625.5,186.7Z M644.2,195.4 644.5,201.1 652.8,201.1 655.2,197.1Z M635.8,230.9 635.8,241.0 638.8,241.8 647.6,237.7 644.1,231.5 640.0,229.5Z M645.9,223.4 643.6,229.1 658.5,227.4 659.4,224.7 650.0,221.4Z M655.4,243.0 661.7,249.3 667.0,248.5 665.4,244.7 659.4,240.9Z M605.0,241.4 607.7,256.3 613.4,253.5 616.2,250.1 613.5,240.7Z M612.5,252.9 614.6,259.2 619.7,260.3 623.0,253.2 622.3,249.5 616.7,249.8Z M619.3,262.4 622.7,267.2 627.4,272.5 633.5,269.8 635.5,263.1 633.5,257.0 627.3,257.0Z M650.2,257.1 649.5,260.7 652.8,264.8 658.5,266.2 659.3,259.8 655.8,255.7Z M659.5,259.0 659.5,264.2 668.2,264.2 671.3,262.0 667.1,256.9Z M688.5,177.3 686.3,183.3 693.4,188.5 696.0,191.1 704.7,191.8 697.8,180.1 692.1,180.1Z M666.9,185.0 669.0,197.9 675.8,199.3 680.8,191.6 676.5,190.2 672.1,185.8Z M684.1,184.3 681.9,192.2 692.2,197.6 694.3,189.7Z M680.4,191.8 677.0,198.0 678.3,202.9 685.0,205.6 689.9,202.8 689.9,197.2Z M690.0,201.8 687.0,204.8 687.3,210.3 690.7,213.0 694.4,206.8Z M684.8,210.4 682.6,213.6 683.3,219.1 689.5,221.2 693.4,218.3 691.0,213.1Z M704.0,203.9 703.2,210.2 706.2,213.2 709.3,210.2 708.5,204.3Z M723.8,194.2 724.5,200.4 730.1,201.5 737.3,197.8 732.1,194.5Z M741.3,187.9 743.4,194.2 748.5,195.0 749.9,190.0 747.8,184.3Z M750.1,182.9 750.1,190.1 752.4,196.2 756.1,189.5 754.8,178.7Z M703.9,212.3 704.1,220.8 707.7,221.6 710.9,217.1 710.2,212.1Z M697.0,215.7 697.5,223.5 704.9,223.1 704.7,215.5Z M691.7,218.4 691.9,223.7 698.0,223.5 697.8,218.3Z M695.5,223.7 697.1,228.7 702.8,230.0 705.6,223.5Z M690.3,225.7 690.5,230.7 696.7,230.5 696.5,225.5Z M700.0,231.2 693.6,236.9 697.0,239.4 701.9,233.0Z M702.8,243.2 699.1,249.5 702.4,253.2 708.5,248.4 710.1,244.0Z M689.0,251.9 687.5,257.0 692.0,261.3 695.8,256.3 694.1,252.6Z M691.2,261.3 686.7,265.5 689.0,270.9 693.0,275.7 698.7,272.1 696.7,264.7Z M708.7,249.6 712.2,258.7 716.7,257.9 717.4,248.2Z M717.1,247.7 715.7,257.5 716.5,263.6 723.0,256.4 722.4,246.9Z M720.7,261.6 722.1,270.6 726.8,269.8 725.4,259.2Z M726.7,258.6 729.7,261.9 733.5,263.0 737.6,265.7 742.0,259.9 733.8,254.4Z M738.9,261.5 739.5,267.2 750.0,276.3 754.4,272.6 750.4,266.2 745.2,260.0Z M724.2,271.5 724.5,281.1 731.8,281.8 731.1,270.7Z M681.6,281.7 684.1,288.2 696.2,282.8 694.1,275.5Z M683.3,287.4 670.1,296.6 670.1,301.2 681.4,299.2 688.9,297.2Z M684.4,287.9 688.2,296.8 691.4,298.7 702.0,286.1 695.6,282.5Z M686.9,269.5 693.7,276.3 697.3,273.4 698.8,269.5Z M707.9,288.0 713.5,293.6 720.2,294.9 724.2,290.2 724.2,283.9 714.9,283.9Z M738.9,314.5 739.5,324.1 748.0,327.0 755.4,325.4 756.8,320.7 756.8,314.2Z M756.2,337.6 754.5,338.4 753.3,348.6 749.5,359.9 754.0,355.5 765.3,353.0 770.0,348.2 768.5,344.7 763.4,338.3Z M675.1,300.1 674.1,311.3 676.5,318.6 681.1,318.6 679.9,300.1Z M681.1,319.1 687.2,327.9 692.5,329.3 696.6,327.9 700.6,320.5 697.3,317.2 692.8,312.0 692.1,316.5Z M706.4,331.6 708.3,346.3 708.9,361.2 720.4,357.3 723.0,345.1 723.0,337.5 721.0,325.2 717.9,324.4 715.9,326.5Z M723.9,335.2 724.5,341.0 731.8,343.2 731.8,339.3 729.7,333.8Z M775.8,334.8 775.8,340.1 777.1,344.9 782.5,345.5 792.6,342.4 796.7,342.0 797.4,329.8 795.3,327.0 782.9,325.7Z M797.0,329.1 796.4,335.0 797.1,341.9 809.2,337.9 809.9,333.0 806.6,328.3 801.2,326.3Z" fill="#ccd8ea" stroke="#8a8a8a" stroke-width="0.72" stroke-linejoin="round"/>
<path d="M528.3,185.8 526.3,195.5 530.5,198.0 534.1,198.0 536.1,193.3 539.2,183.7Z M531.6,240.1 525.9,247.2 521.7,252.9 522.0,260.7 529.7,257.9 533.8,253.8 530.6,249.9 532.4,245.0Z M532.8,253.3 528.9,257.3 529.6,267.1 537.7,262.3 541.8,260.3 541.1,251.3Z M522.0,259.6 521.4,268.9 524.2,271.8 532.6,271.0 530.5,266.1 529.9,256.8Z M595.0,192.3 597.1,197.8 603.2,203.3 608.7,193.6 601.9,187.9Z M626.9,237.2 629.0,248.2 638.1,244.7 636.7,240.5 635.4,233.3Z M638.4,241.1 636.9,245.2 643.9,250.8 646.6,246.0 652.0,243.3 647.7,237.5Z M643.1,228.3 645.2,234.1 648.6,236.8 657.2,234.8 659.3,232.0 658.5,226.3Z M658.3,230.7 657.6,235.0 657.6,240.8 663.0,245.5 666.6,244.8 668.5,241.5 671.2,236.2 667.8,232.0Z M662.6,264.1 662.0,279.3 670.4,279.0 671.1,276.4 673.0,271.3 671.0,264.5Z M584.5,259.7 584.2,280.2 589.7,280.5 593.6,272.7 595.5,267.1 598.0,263.2 597.3,257.8 589.9,260.5Z M693.1,163.1 701.0,171.5 707.8,172.4 710.4,167.1 713.7,160.4 707.9,156.8 706.6,159.5 697.3,158.5Z M692.6,162.6 692.4,170.0 692.6,173.2 698.3,174.3 700.6,170.5Z M692.4,173.5 691.4,176.9 692.8,181.2 697.4,180.4 698.1,173.9Z M684.4,170.8 686.6,180.8 691.6,177.9 693.2,174.1 693.2,169.4Z M670.0,183.6 676.0,191.1 681.6,191.1 683.1,185.4 680.2,182.6Z M669.7,207.6 664.9,217.1 673.3,221.2 679.3,212.6 678.5,208.0Z M679.0,205.2 678.2,210.9 683.2,213.8 687.5,208.1 685.3,204.2Z M696.0,203.8 694.0,207.8 690.3,212.6 694.4,215.6 701.2,212.2 699.8,205.2Z M714.2,194.9 718.5,199.2 723.5,200.6 724.3,196.8 720.1,191.2Z M709.2,198.4 713.4,206.0 719.8,208.6 724.5,210.6 727.5,208.3 726.1,203.5 723.4,200.2 715.0,197.2Z M708.3,208.0 708.0,213.8 709.5,217.5 707.5,222.7 712.0,225.0 715.5,220.8 716.1,214.9 713.4,207.6Z M705.3,219.8 705.7,225.8 712.4,225.0 712.3,219.7Z M682.7,220.0 682.0,227.1 687.0,230.7 691.9,225.0 688.4,220.8Z M693.2,241.8 688.6,245.6 697.1,252.3 698.7,248.7Z M697.0,263.4 697.6,272.3 701.4,273.0 707.5,266.4 705.3,259.9Z M705.1,269.7 705.8,276.7 713.1,278.0 715.5,277.3 716.1,272.5 714.1,266.2Z M685.5,268.7 682.0,273.5 680.0,280.4 687.6,281.5 690.4,280.4 692.5,274.9Z M671.2,282.0 670.1,282.0 670.1,297.9 683.3,287.7 681.4,278.1Z M682.8,269.5 680.7,274.3 681.5,282.0 693.3,275.7 687.7,269.5Z M701.8,285.5 691.4,299.3 692.1,303.5 700.0,305.5 706.7,304.3 712.5,309.4 716.8,306.5 715.4,301.4 709.0,300.8 704.9,294.8 704.9,288.5Z M714.4,294.8 715.8,300.4 721.4,301.7 722.0,306.4 724.5,311.4 725.2,316.2 740.8,312.8 736.7,306.1 735.5,299.2 731.6,294.0 725.1,290.1 721.1,290.8Z M736.2,282.1 738.3,288.9 748.2,308.8 745.5,314.9 756.3,314.9 755.8,320.5 754.5,324.9 752.6,332.0 754.7,336.2 756.9,335.5 763.4,338.8 766.7,328.9 768.0,317.4 765.5,312.5 767.4,306.3 766.1,296.0 760.7,291.9 757.6,293.2 750.3,288.4 747.9,285.9 743.3,281.4Z M699.7,320.7 696.6,327.6 692.0,328.3 691.4,334.1 698.4,336.9 700.3,332.4 706.4,332.4 712.4,328.4 712.4,323.3Z" fill="#6b87b4" stroke="#8a8a8a" stroke-width="0.72" stroke-linejoin="round"/>
<path d="M529.4,266.3 531.5,270.9 534.1,274.2 538.5,275.7 539.2,272.3 546.5,271.0 545.4,259.6 537.3,261.4Z M613.2,242.3 615.9,250.5 621.7,249.9 624.8,252.6 629.5,247.9 628.0,238.6 624.5,232.1Z M712.8,208.0 714.7,212.7 716.6,216.2 720.3,215.9 722.9,211.6 719.2,207.2Z M701.5,232.2 699.6,237.2 692.4,241.8 698.8,249.6 703.4,243.6 709.3,242.3 708.6,236.3 710.6,231.7 706.2,228.8Z M705.3,225.9 709.8,231.8 714.2,230.4 715.0,224.4Z M693.6,229.7 696.1,233.7 700.9,231.5 699.7,227.9Z" fill="#10466e" stroke="#8a8a8a" stroke-width="0.72" stroke-linejoin="round"/>
<path d="M716.5,327.0 718.0,345.0 715.0,358.5 M670.6,288.0 682.0,283.0 M747.5,287.2 742.3,294.5 M755.8,320.0 766.3,313.8 M755.6,322.6 766.3,318.2 M748.8,371.2 752.0,378.0 752.5,384.4 M757.0,364.0 758.0,375.0 758.5,384.0 M765.0,372.5 764.0,378.0 765.0,383.8 M770.0,377.5 770.5,383.8" fill="none" stroke="#8a8a8a" stroke-width="0.7"/>
<path d="M734.8,155.8 734.1,157.0 734.9,157.9 734.4,159.1 734.6,160.1 736.5,160.8 736.8,161.8 734.4,163.2 736.3,163.9 736.6,164.9 734.3,166.2 736.1,167.0 735.2,168.3 736.6,169.0 736.3,170.1 738.1,170.7 736.8,172.1 736.4,173.3 737.7,174.0 737.4,175.2 737.9,176.2 740.0,176.6 738.3,178.4 739.3,179.0 740.5,179.3 741.8,179.7 740.0,181.9 741.6,182.1 741.7,183.6 742.5,184.6 743.7,184.6 744.4,185.7 746.0,185.0 M735.6,157.0 734.9,158.0 735.7,158.8 734.8,159.8 735.0,160.7 736.7,161.4 736.7,162.3 736.7,163.2 735.3,164.3 736.4,165.1 736.2,166.1 737.0,166.8 736.8,167.8 737.2,168.7 737.5,169.5 737.2,170.5 737.4,171.4 737.0,172.5 737.6,173.3 737.4,174.3 737.7,175.3 737.9,176.2 738.8,176.9 740.1,177.3 739.2,178.7 739.4,179.7 739.9,180.5 741.0,181.0 M747.9,183.0 747.9,184.1 749.1,184.8 748.2,186.2 749.0,187.0 749.8,187.9 750.6,188.8 749.3,189.8 748.8,190.8 750.3,192.2 748.7,192.9 749.0,194.0 M724.1,200.9 725.1,201.4 725.5,202.4 725.4,203.7 725.9,204.6 727.8,205.0 726.8,206.0 727.8,207.0 726.6,208.0 727.2,209.2 725.9,209.4 725.1,210.1 725.2,211.4 723.9,211.7 724.0,213.0 M746.3,251.9 747.1,252.9 746.5,254.3 747.8,255.1 747.9,256.3 747.8,257.5 747.8,258.7 748.9,259.6 749.5,260.7 748.4,262.3 749.8,263.0 749.2,264.6 749.8,265.7 751.2,266.4 751.6,267.6 752.0,268.8 752.3,270.0 752.8,271.1 753.4,272.2 753.8,273.4 753.8,274.8 755.0,275.7 755.6,276.8 756.0,278.0 M749.7,274.8 749.6,276.3 748.8,277.2 747.1,277.5 747.0,279.0 745.9,279.9 745.6,281.6 744.0,282.0 M740.1,323.7 740.8,324.6 742.3,323.2 742.5,325.3 743.4,325.7 744.9,324.3 745.2,326.4 746.3,326.2 746.9,327.2 747.9,326.5 749.1,327.4 750.0,327.2 750.2,324.8 751.1,324.6 752.5,326.3 753.7,326.9 753.9,324.5 755.1,325.0 754.6,326.0 755.3,327.1 755.0,328.1 755.0,329.1 754.7,330.1 753.8,331.0 754.6,331.9 754.5,333.0 753.4,334.1 755.9,334.8 754.3,336.0 753.9,337.1 755.4,337.9 755.8,338.9 754.1,339.8 755.6,341.1 755.6,342.0 754.6,342.7 753.6,343.5 755.2,344.8 754.4,345.5 754.1,346.4 752.4,347.0 753.4,348.1 751.9,348.7 753.8,350.1 753.1,350.9 751.9,351.6 750.9,352.3 752.0,353.5 752.5,354.5 752.6,355.5 751.1,356.1 751.0,357.0 M737.9,328.3 735.8,328.6 735.5,329.5 737.1,331.0 736.5,331.8 734.8,332.3 735.0,333.3 734.2,334.1 735.3,335.4 735.6,336.5 734.9,337.3 733.2,337.7 734.3,339.1 733.8,339.9 733.2,340.8 732.9,341.6 732.6,342.5 730.8,342.9 732.6,344.6 732.7,345.6 731.2,344.7 730.1,344.7 729.2,344.3 728.0,345.8 727.2,344.2 726.2,344.1 724.9,346.1 724.1,344.4 722.0,344.8 722.4,345.8 722.6,346.8 723.1,347.9 722.8,348.8 723.0,349.7 723.3,350.7 721.6,351.4 722.3,352.4 720.6,353.1 722.7,354.4 720.0,354.9 721.0,356.0 M698.8,361.8 699.6,363.0 700.7,363.1 701.7,363.3 702.9,362.1 704.4,359.9 704.8,363.3 706.3,361.0 707.2,361.7 707.9,363.5 709.0,363.1 709.7,362.2 711.6,363.9 711.8,362.2 712.1,360.7 712.8,359.9 714.9,361.9 714.9,359.9 716.5,360.6 716.3,358.4 716.8,357.4 718.4,358.1 719.9,358.7 720.0,357.0 M752.8,354.1 754.1,355.6 755.1,355.8 755.9,355.3 756.9,355.1 757.3,352.7 758.6,354.2 759.7,354.6 760.1,352.2 761.2,352.6 762.1,352.4 763.2,353.0 764.0,352.5 765.0,352.4 766.0,353.3 767.0,351.1 768.0,351.3 769.0,351.5 769.2,351.8 769.7,351.0 772.3,351.9 772.7,351.0 771.7,348.8 773.2,348.9 773.4,347.8 774.1,347.1 774.8,346.4 776.0,346.2 776.5,345.4 777.0,344.1 778.1,343.7 779.0,344.2 780.1,343.7 781.0,345.0 781.9,345.5 782.9,344.7 783.5,343.6 784.5,343.6 785.5,343.8 786.5,344.2 787.6,344.4 788.1,343.0 789.3,343.9 790.0,343.1 790.7,342.4 791.5,341.9 792.5,342.0 793.6,342.4 794.5,341.4 795.6,341.9 796.5,341.1 797.3,340.3 798.4,340.8 799.4,341.0 799.8,339.0 801.0,339.7 801.9,339.5 803.1,340.4 804.0,340.3 804.5,338.5 805.8,339.6 806.6,339.1 807.0,337.4 808.1,337.7 808.7,336.5 810.2,338.1 811.1,337.4 812.3,337.8 813.2,337.3 814.1,336.7 815.1,336.7 815.9,336.1 816.7,334.7 817.8,336.0 818.5,334.3 819.4,334.6 820.5,336.2 821.2,334.1 822.2,334.1 823.1,334.1 824.2,336.2 825.2,334.1 826.3,333.9 826.8,336.3 828.2,334.6 828.8,336.7 830.0,336.0 M833.4,338.1 834.0,337.3 834.5,336.5 833.9,335.4 834.6,334.6 833.0,333.3 835.0,332.8 834.6,331.8 835.3,331.0 834.1,330.1 835.5,329.0 835.9,328.1 833.7,327.4 834.2,326.4 834.7,325.4 835.2,324.5 833.7,323.7 833.5,322.8 833.6,321.9 834.4,320.9 834.6,319.9 833.7,319.1 833.5,318.2 833.5,317.3 833.3,316.4 833.4,315.5 832.5,314.6 833.4,313.6 834.4,312.6 833.0,311.8 833.7,310.9 832.2,310.2 833.2,309.0 833.1,308.1 832.7,307.3 832.0,306.5 831.7,305.6 831.8,304.7 832.2,303.6 831.0,303.0 M825.3,303.2 825.0,302.3 826.0,301.1 826.1,300.1 825.0,299.5 824.6,298.7 824.9,297.6 823.6,297.0 823.6,296.1 823.1,295.3 823.6,294.2 822.8,293.5 822.3,292.7 822.9,291.6 823.1,290.6 822.0,290.0 M783.2,325.5 783.6,326.8 784.6,326.4 784.9,327.7 785.9,327.4 787.0,326.9 787.8,327.0 788.7,326.9 789.0,328.2 789.8,327.9 790.6,327.2 791.5,327.6 792.4,327.4 793.4,328.4 794.0,326.7 795.0,327.5 M783.7,327.9 784.9,327.2 785.7,327.8 786.6,327.8 787.2,328.8 788.1,329.0 789.1,328.8 790.0,329.0 790.9,329.3 791.7,329.5 792.4,328.5 793.3,329.1 794.0,328.5 M675.8,318.9 677.0,318.1 678.1,317.9 679.1,318.1 679.9,319.2 680.7,319.2 680.9,320.4 681.6,321.0 683.2,321.1 683.9,321.8 684.4,322.7 685.1,323.4 684.9,324.8 685.2,325.8 685.8,326.7 687.2,326.5 687.7,328.1 689.1,327.5 690.1,328.1 690.8,329.0 692.0,329.0 M769.5,377.6 770.1,376.8 771.6,376.7 771.5,375.4 772.2,374.7 773.0,374.1 774.0,374.3 775.0,373.2 776.3,374.0 776.2,375.0 776.1,376.0 776.6,377.0 776.1,378.0 775.6,379.0 776.5,380.0 776.3,381.0 777.1,382.0 776.5,383.0 M740.9,386.1 742.0,386.6 742.9,385.5 744.1,386.6 745.1,386.5 745.9,385.0 747.1,386.2 748.0,385.1 749.1,385.5 750.1,385.4 750.9,384.5 752.0,384.9 753.0,384.8 754.0,385.0 755.0,384.1 756.0,384.8 757.0,385.1 758.0,384.6 759.0,384.3 760.0,383.6 761.0,384.2 762.0,383.9 763.0,384.4 764.0,384.3 765.0,384.1 766.0,383.5 767.0,384.2 768.0,384.2 769.0,383.5 770.0,384.6 771.0,384.2 772.0,383.4 773.0,384.7 774.0,383.4 775.0,383.7 776.0,384.0 M805.0,392.4 806.0,392.1 807.0,392.0 808.0,392.1 809.0,391.8 810.0,391.5 811.0,391.2 812.0,391.0 813.0,392.0 814.0,392.0 815.0,391.7 816.2,391.4 816.9,390.4 817.8,389.7 818.9,389.4 820.5,389.3 820.0,387.7 821.2,387.3 821.4,386.3 822.7,385.9 822.7,384.7 823.5,384.0" fill="none" stroke="#787878" stroke-width="0.7" stroke-linejoin="round"/>
<path d="M734.6,155.4 734.6,156.2 734.4,157.0 733.9,157.9 735.1,158.4 734.0,159.4 736.0,159.8 735.7,160.7 736.3,161.3 736.4,162.1 734.8,163.1 735.0,163.8 736.6,164.4 736.7,165.1 736.2,166.0 735.5,166.9 735.5,167.7 735.9,168.4 736.4,169.1 737.7,169.6 737.2,170.4 737.9,171.1 737.2,172.0 737.3,172.7 738.4,173.2 738.5,173.9 737.3,174.9 739.4,175.1 737.7,176.3 737.6,177.1 737.8,178.1 739.4,178.0 739.4,178.8 739.6,179.5 739.8,180.2 739.4,181.2 740.4,181.5 741.6,181.6 741.0,183.3 742.2,182.9 742.7,183.6 743.2,184.4 744.9,183.3 744.4,185.4 745.5,185.3" fill="none" stroke="#858585" stroke-width="1.5" stroke-linejoin="round"/>
<path d="M783.4,326.6 784.2,326.6 784.9,326.9 785.6,327.1 786.5,326.8 786.9,327.7 788.0,327.1 788.3,328.2 789.0,328.8 789.8,328.3 790.6,328.4 791.5,329.1 792.2,328.9 792.8,327.3 793.8,328.5 794.5,327.8" fill="none" stroke="#858585" stroke-width="1.1" stroke-linejoin="round"/>
<path d="M741.9,324.8 743.1,323.8 743.5,324.7 744.2,324.7 745.1,324.7 745.3,326.0 745.6,327.1 746.8,326.1 747.0,327.5 748.1,327.5 748.5,326.0 749.7,327.5 750.3,326.7 751.2,327.2 751.9,326.6 752.6,326.4 753.2,325.3 754.0,325.5" fill="none" stroke="#858585" stroke-width="1.0" stroke-linejoin="round"/>
<path d="M833.1,318.1 833.5,317.4 833.5,316.6 832.8,315.7 833.5,315.1 833.1,314.2 832.5,313.4 832.5,312.6 832.7,312.2 832.7,311.4 832.5,310.7 832.9,309.8 833.1,308.9 832.6,308.2 832.2,307.5 832.5,306.7 832.0,306.0" fill="none" stroke="#858585" stroke-width="1.0" stroke-linejoin="round"/>
<path d="M722.3,203.7 722.6,204.4 722.6,205.4 723.6,205.4 724.5,205.5 723.9,207.1 724.7,207.3 725.8,207.4 725.9,208.3 725.8,209.2 726.0,210.0" fill="none" stroke="#858585" stroke-width="0.9" stroke-linejoin="round"/>
<path d="M718.5,231.5 719.8,232.4 719.0,233.2 M722.0,234.6 723.6,235.2 M720.4,238.0 721.8,239.2 720.8,240.0 M725.0,238.4 726.4,239.0 M716.0,236.4 717.0,237.4 M727.4,241.0 728.6,241.6 728.0,242.6 M723.5,230.0 724.6,230.8 M714.4,240.6 715.4,241.6" fill="none" stroke="#858585" stroke-width="0.6"/>
</svg>
<svg class="abs" style="left:247px;top:415px;" width="770" height="22" viewBox="247 415 770 22">
  <circle cx="387.7" cy="426.2" r="3.8" fill="#c8d4e8"/>
  <circle cx="563.5" cy="426.2" r="3.8" fill="#6a86b6"/>
  <circle cx="750.1" cy="426.2" r="3.8" fill="#10466e"/>
</svg>
<div class="abs lg" id="g1" style="left:394px;top:421.8px;font-size:10px;line-height:12px;color:#605e5c;">Between 1 and 50 Families Enrolled</div>
<div class="abs lg" id="g2" style="left:570px;top:421.8px;font-size:10px;line-height:12px;color:#605e5c;">Between 51 and 200 Families Enrolled</div>
<div class="abs lg" id="g3" style="left:756px;top:421.8px;font-size:10px;line-height:12px;color:#605e5c;">Over 200 Families Enrolled</div>

<!-- bar chart 1 -->
<div class="title" id="t1" style="letter-spacing:0.5px;left:11px;top:458.7px;">Families Enrolled by Shelter System</div>
<div class="grid" style="left:151px;"></div>
<div class="grid" style="left:246px;"></div>
<div class="grid" style="left:341px;"></div>
<div class="grid" style="left:436px;"></div>
<div class="grid" style="left:531px;"></div>
<div class="bar" style="left:151px;top:500.5px;width:363.5px;background:#37845a;"></div>
<div class="bar" style="left:151px;top:534.5px;width:345.5px;background:#666666;"></div>
<div class="bar" style="left:151px;top:568.5px;width:6px;background:#6b0f1f;"></div>
<div class="lbl" id="la1" style="right:879px;top:509px;">Hotel/Motel</div>
<div class="lbl" id="la2" style="right:879px;top:543px;">Traditional Shelter</div>
<div class="lbl" id="la3" style="right:879px;top:577px;">Temporary Emergency Shelter</div>
<div class="val" id="va1" style="left:486px;top:509px;color:#fff;">3,825</div>
<div class="val" id="va2" style="left:503px;top:543px;">3,637</div>
<div class="val" id="va3" style="left:163px;top:577px;">59</div>
<div class="ax" style="left:136px;top:612px;">0K</div>
<div class="ax" style="left:231px;top:612px;">1K</div>
<div class="ax" style="left:326px;top:612px;">2K</div>
<div class="ax" style="left:421px;top:612px;">3K</div>
<div class="ax" style="left:516.5px;top:612px;">4K</div>

<!-- bar chart 2 -->
<div class="title" id="t2" style="letter-spacing:0.5px;left:544.5px;top:458.7px;">Families Enrolled in Hotel/Motel</div>
<div class="grid" style="left:669px;"></div>
<div class="grid" style="left:802.5px;"></div>
<div class="grid" style="left:935px;"></div>
<div class="bar" style="left:669.5px;top:500.5px;width:298px;background:#37845a;"></div>
<div class="bar" style="left:669.5px;top:534.5px;width:201.5px;background:#37845a;"></div>
<div class="bar" style="left:669.5px;top:568.5px;width:9.5px;background:#37845a;"></div>
<div class="lbl" id="lb1" style="right:361px;top:509px;">Provider Supported</div>
<div class="lbl" id="lb2" style="right:361px;top:543px;">National Guard Supported</div>
<div class="lbl" id="lb3" style="right:361px;top:577px;">No Provider</div>
<div class="val" id="vb1" style="left:974px;top:509px;">2,240</div>
<div class="val" id="vb2" style="left:878px;top:543px;">1,516</div>
<div class="val" id="vb3" style="left:685px;top:577px;">69</div>
<div class="ax" style="left:654.5px;top:612px;">0K</div>
<div class="ax" style="left:788px;top:612px;">1K</div>
<div class="ax" style="left:920.5px;top:612px;">2K</div>

</body>
</html>
